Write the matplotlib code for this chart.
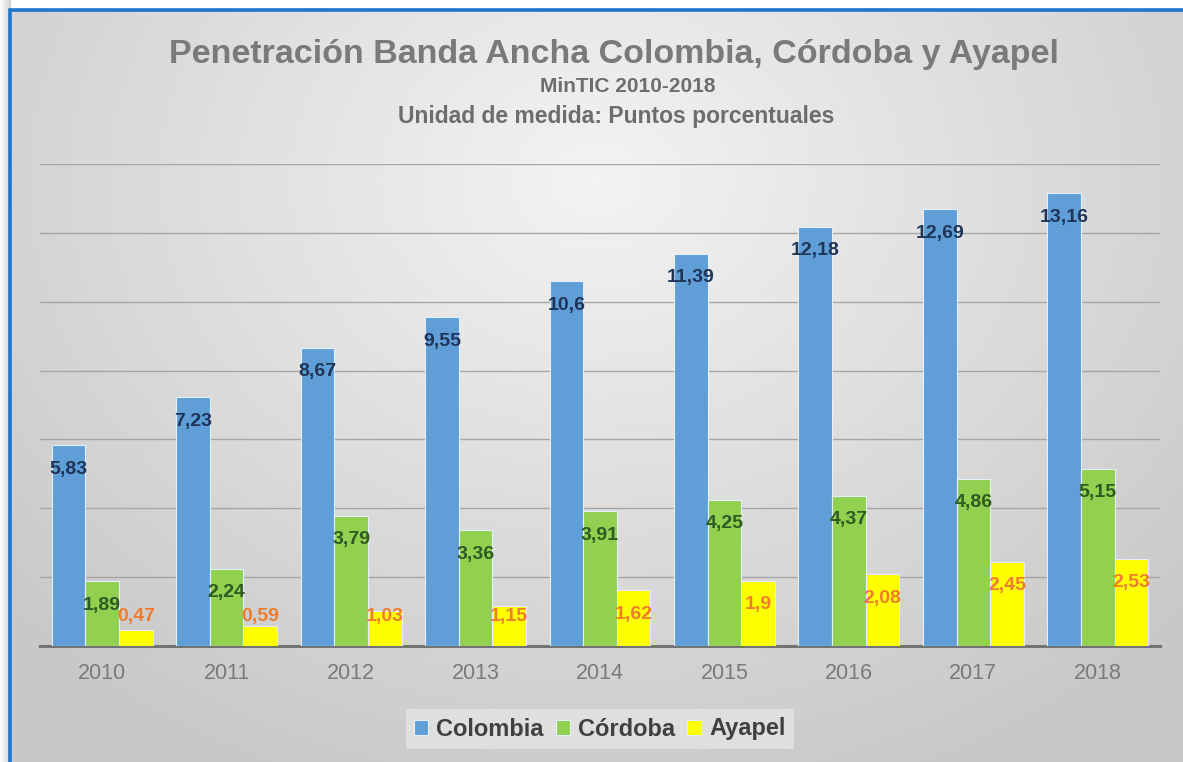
import numpy as np
import matplotlib
matplotlib.use("Agg")
import matplotlib.pyplot as plt
from matplotlib.patches import Rectangle

years = ["2010", "2011", "2012", "2013", "2014", "2015", "2016", "2017", "2018"]
colombia = [5.83, 7.23, 8.67, 9.55, 10.6, 11.39, 12.18, 12.69, 13.16]
cordoba = [1.89, 2.24, 3.79, 3.36, 3.91, 4.25, 4.37, 4.86, 5.15]
ayapel = [0.47, 0.59, 1.03, 1.15, 1.62, 1.9, 2.08, 2.45, 2.53]
series_names = ["Colombia", "Córdoba", "Ayapel"]

plt.rcParams['font.family'] = ['Liberation Sans', 'DejaVu Sans']

W, H = 1183, 762
fig = plt.figure(figsize=(W / 100, H / 100), dpi=100)
fig.patch.set_facecolor("white")

# soft shadow strip left of the frame
sh = fig.add_axes([0, 0, 10 / W, 1], zorder=0)
sgrad = np.linspace(1.0, 0.82, 20)
sh.imshow(np.dstack([np.tile(sgrad, (10, 1))] * 3), extent=[0, 1, 0, 1], aspect="auto")
sh.set_axis_off()

# background gradient panel
x0, y0top = 10 / W, 10 / H
bg = fig.add_axes([x0, 0, 1 - x0, 1 - y0top], zorder=0)
gx = np.linspace(-1, 1, 400)
gy = np.linspace(-1, 1, 300)
GX, GY = np.meshgrid(gx, gy)
r = np.sqrt((GX * 0.95) ** 2 + ((GY + 0.55) * 0.75) ** 2)
val = 0.955 - 0.17 * np.clip(r, 0, 1.3) / 1.3
bg.imshow(np.dstack([val, val, val]), extent=[0, 1, 0, 1], aspect="auto", origin="upper")
bg.set_axis_off()

# blue frame (top and left edges)
fig.patches.append(Rectangle((x0, -0.1), 1.2, 1.1 - y0top,
                             transform=fig.transFigure, fill=False,
                             edgecolor="#1f74cc", linewidth=2.6, zorder=5))

ax = fig.add_axes([40 / W, 116 / H, 1120 / W, (598 - 116) / H], zorder=2)
ax.patch.set_alpha(0)

n = len(years)
x = np.arange(n)
bw = 0.27
colors = ["#5f9ed7", "#92d050", "#ffff00"]
lab_colors = ["#1f3457", "#2f5a22", "#ee7d31"]
data = [colombia, cordoba, ayapel]
for i, (vals, c, lc, name) in enumerate(zip(data, colors, lab_colors, series_names)):
    pos = x + (i - 1) * bw
    ax.bar(pos, vals, width=bw, color=c, edgecolor="#e3f0fb", linewidth=0.8,
           label=name, zorder=3)
    for p, v in zip(pos, vals):
        ly = max(v - 0.70, 0.85)
        txt = f"{v:g}".replace(".", ",")
        ax.text(p, ly, txt, ha="center", va="center", fontsize=14,
                fontweight="bold", color=lc, zorder=4)

ax.set_xlim(-0.5, n - 0.5)
ax.set_ylim(0, 14)
ax.set_yticks(np.arange(0, 15, 2))
ax.yaxis.grid(True, color="#a6a6a6", linewidth=1.0, zorder=1)
ax.set_axisbelow(True)
ax.tick_params(axis="y", left=False, labelleft=False)
ax.set_xticks(x)
ax.set_xticklabels(years, fontsize=15.5, color="#7a7a7a")
ax.tick_params(axis="x", length=0, pad=12)
for s in ["top", "right", "left"]:
    ax.spines[s].set_visible(False)
ax.spines["bottom"].set_color("#737373")
ax.spines["bottom"].set_linewidth(2.2)

fig.text(614 / W, 1 - 55 / H, "Penetración Banda Ancha Colombia, Córdoba y Ayapel",
         ha="center", va="center", fontsize=24.5, fontweight="bold", color="#7a7a7a")
fig.text(628 / W, 1 - 87 / H, "MinTIC 2010-2018", ha="center", va="center",
         fontsize=15, fontweight="bold", color="#6d6d6d")
fig.text(616 / W, 1 - 117 / H, "Unidad de medida: Puntos porcentuales", ha="center",
         va="center", fontsize=16.5, fontweight="bold", color="#6d6d6d")

leg = fig.legend(loc="center", bbox_to_anchor=(600 / W, 1 - 729 / H), ncol=3,
                 frameon=True, handlelength=0.6, handleheight=0.6,
                 handletextpad=0.35, columnspacing=0.5, borderpad=0.35,
                 prop={"weight": "bold", "size": 17})
leg.get_frame().set_facecolor("#e4e4e4")
leg.get_frame().set_edgecolor("none")
leg.get_frame().set_boxstyle("square", pad=0.0)
for t in leg.get_texts():
    t.set_color("#404040")

fig.savefig("out.png", dpi=100)
